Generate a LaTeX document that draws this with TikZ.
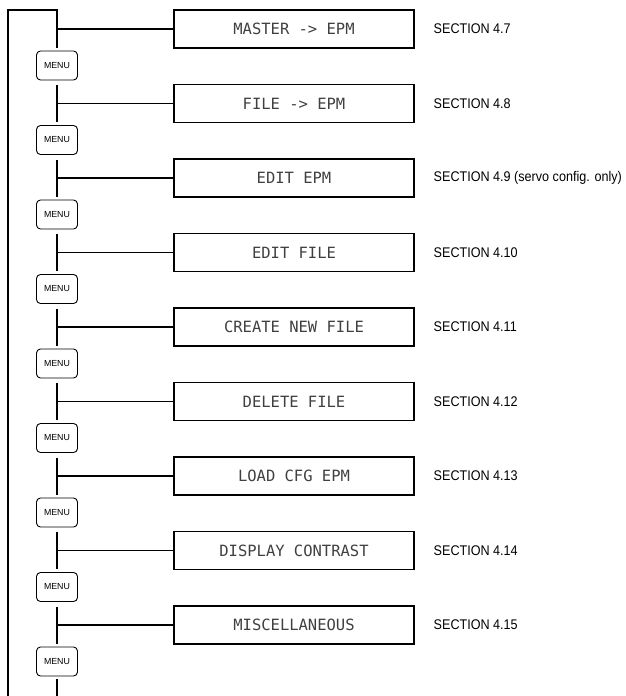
\documentclass[tikz,border=0pt]{standalone}
\usepackage{fontspec}
\setmainfont{Liberation Sans}
\newfontfamily\lcd{DejaVu Sans Mono}
\newfontfamily\cond[FakeStretch=0.9]{Liberation Sans}
\begin{document}
\begin{tikzpicture}[x=1pt,y=-1pt,line width=1.4pt,
  disp/.style={draw,line width=1.4pt,minimum width=240pt,minimum height=38pt,inner sep=0pt,
    font=\lcd\fontsize{15.5}{18}\selectfont,text=black!75},
  menu/.style={draw,line width=0.9pt,rounded corners=4pt,minimum width=41pt,minimum height=29pt,inner sep=0pt,
    font=\fontsize{8.8}{10}\selectfont},
  sec/.style={anchor=west,inner sep=0pt,font=\cond\fontsize{14}{16}\selectfont}]
\useasboundingbox (0,0) rectangle (625,696);
\foreach \i/\t/\s in {0/{MASTER -> EPM}/{SECTION 4.7},
  1/{FILE -> EPM}/{SECTION 4.8},
  2/{EDIT EPM}/{SECTION 4.9 (servo config. only)},
  3/{EDIT FILE}/{SECTION 4.10},
  4/{CREATE NEW FILE}/{SECTION 4.11},
  5/{DELETE FILE}/{SECTION 4.12},
  6/{LOAD CFG EPM}/{SECTION 4.13},
  7/{DISPLAY CONTRAST}/{SECTION 4.14},
  8/{MISCELLANEOUS}/{SECTION 4.15}}{
  \pgfmathsetmacro\yy{29+74.5*\i}
  \node[disp] (b\i) at (294,\yy) {\t};
  \node[sec] (s\i) at (433,\yy) {\s};
  \node[menu] (m\i) at (57,\yy+36.5) {MENU};
  \coordinate (j\i) at (57,\yy);
  \draw (j\i) -- (b\i.west);
}
\coordinate (bl) at (8,696);
\coordinate (tl) at (8,10);
\coordinate (tr) at (57,10);
\coordinate (br) at (57,696);
\draw (bl) -- (tl) -- (tr) -- ([yshift=3pt]m0.north);
\foreach \i [evaluate=\i as \p using int(\i-1)] in {1,...,8}{
  \draw ([yshift=-5pt]m\p.south) -- ([yshift=3pt]m\i.north);
}
\draw ([yshift=-3pt]m8.south) -- (br);
\end{tikzpicture}
\end{document}
